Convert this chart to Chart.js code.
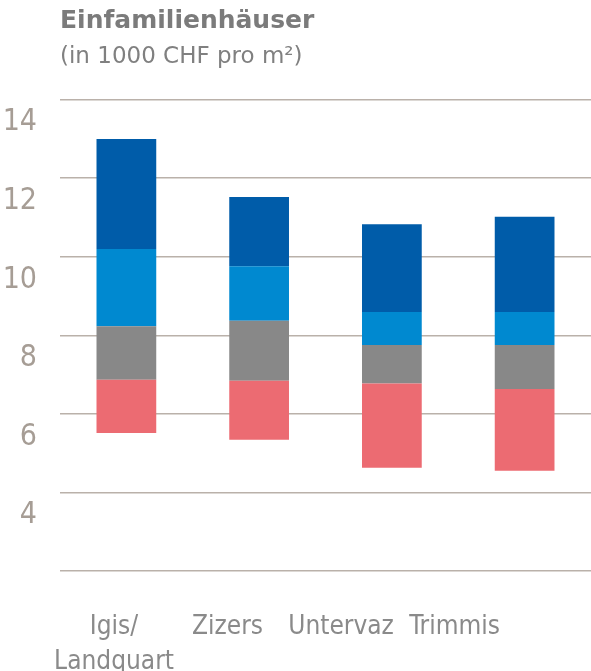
<!DOCTYPE html>
<html>
<head>
<meta charset="utf-8">
<script src="https://cdn.jsdelivr.net/npm/chart.js@4.4.1/dist/chart.umd.min.js"></script>
<style>
  html, body { margin: 0; padding: 0; background: #ffffff; }
  #wrap { width: 591px; height: 671px; position: relative; }
</style>
</head>
<body>
<div id="wrap"><canvas id="c"></canvas></div>
<script>
// Categories (x axis) and their label lines
const categories = ['Igis/Landquart', 'Zizers', 'Untervaz', 'Trimmis'];
const categoryLabelLines = [['Igis/', 'Landquart'], ['Zizers'], ['Untervaz'], ['Trimmis']];

// Segment boundaries per category (in 1000 CHF pro m²)
const bound0 = [5.51, 5.34, 4.63, 4.55];
const bound1 = [6.87, 6.84, 6.77, 6.63];
const bound2 = [8.23, 8.37, 7.75, 7.75];
const bound3 = [10.20, 9.76, 8.59, 8.59];
const bound4 = [13.00, 11.52, 10.83, 11.02];

// Y axis ticks
const yTicks = [2, 4, 6, 8, 10, 12, 14];
const yMin = 2, yMax = 14;

const segColors = ['#ec6b72', '#888888', '#0089d0', '#005ca9'];
const bounds = [bound0, bound1, bound2, bound3, bound4];

const datasets = [0, 1, 2, 3].map(k => ({
  label: 'Segment ' + (k + 1),
  data: categories.map((c, i) => [bounds[k][i], bounds[k + 1][i]]),
  backgroundColor: segColors[k],
  borderWidth: 0,
  grouped: false,
  xAxisID: 'x',
  yAxisID: 'y',
  barPercentage: 0.45,
  categoryPercentage: 1.0
}));

const FONT_NARROW = '"Liberation Sans Narrow", "DejaVu Sans Condensed", "Liberation Sans", sans-serif';

new Chart(document.getElementById('c'), {
  type: 'bar',
  data: { labels: categories, datasets },
  options: {
    responsive: true,
    maintainAspectRatio: false,
    animation: false,
    devicePixelRatio: 1,
    layout: { padding: { left: 0, right: 0, top: 0, bottom: 0 } },
    plugins: {
      legend: { display: false },
      tooltip: { enabled: false },
      title: {
        display: true,
        text: 'Einfamilienhäuser',
        align: 'start',
        fullSize: false,
        color: '#7b7b7b',
        font: { family: '"DejaVu Sans", sans-serif', size: 25, weight: 'bold', lineHeight: 1.2 },
        padding: { top: 6, bottom: 0 }
      },
      subtitle: {
        display: true,
        text: '(in 1000 CHF pro m²)',
        align: 'start',
        fullSize: false,
        color: '#808080',
        font: { family: '"DejaVu Sans", sans-serif', size: 23, weight: 'normal', lineHeight: 1.2 },
        padding: { top: 7, bottom: 29 }
      }
    },
    scales: {
      x: {
        type: 'category',
        display: false,
        offset: true
      },
      xLabels: {
        type: 'linear',
        position: 'bottom',
        offset: false,
        min: -0.476,
        max: 4.202,
        grid: { display: false, drawTicks: false, offset: false },
        border: { display: false },
        afterBuildTicks: (s) => { s.ticks = categories.map((c, i) => ({ value: i })); },
        afterFit: (s) => { s.height = 100; },
        ticks: {
          autoSkip: false,
          maxRotation: 0,
          minRotation: 0,
          padding: 39,
          color: '#8a8a8a',
          font: { family: FONT_NARROW, size: 26, lineHeight: '35px' },
          callback: (v) => categoryLabelLines[v] || ''
        }
      },
      y: {
        type: 'linear',
        min: yMin,
        max: yMax,
        afterBuildTicks: (s) => { s.ticks = yTicks.map(v => ({ value: v })); },
        afterFit: (s) => { s.width = 60; },
        grid: { color: '#bab1aa', lineWidth: 1.5, drawTicks: false },
        border: { display: false },
        ticks: {
          padding: 23,
          labelOffset: 23,
          color: '#a69d95',
          font: { family: FONT_NARROW, size: 30 },
          callback: (v) => (v === yMin ? '' : String(v))
        }
      }
    }
  }
});
</script>
</body>
</html>
